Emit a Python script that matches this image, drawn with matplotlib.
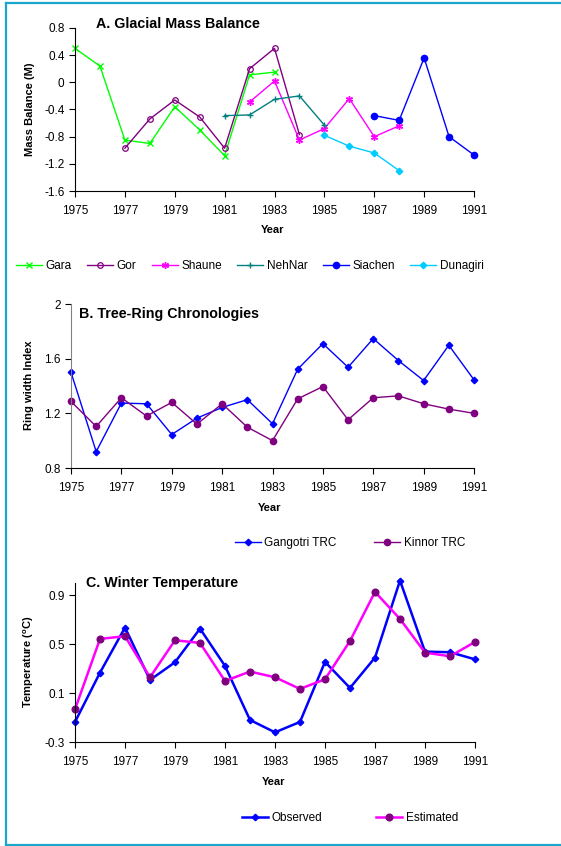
import matplotlib.pyplot as plt
from matplotlib.lines import Line2D

plt.rcParams['font.family'] = ['Liberation Sans', 'DejaVu Sans']

years = list(range(1975, 1992))

# A. glacial mass balance (years + values per glacier)
gara_yr = list(range(1975, 1984))
gara = [0.50, 0.24, -0.85, -0.90, -0.36, -0.70, -1.08, 0.11, 0.15]
gor_yr = list(range(1977, 1985))
gor = [-0.97, -0.54, -0.26, -0.51, -0.97, 0.20, 0.50, -0.77]
shaune_yr = list(range(1982, 1989))
shaune = [-0.29, 0.02, -0.85, -0.68, -0.24, -0.80, -0.64]
nehnar_yr = list(range(1981, 1986))
nehnar = [-0.49, -0.48, -0.25, -0.20, -0.63]
siachen_yr = list(range(1987, 1992))
siachen = [-0.49, -0.56, 0.36, -0.80, -1.07]
dunagiri_yr = list(range(1985, 1989))
dunagiri = [-0.78, -0.94, -1.04, -1.30]

# B. tree-ring chronologies
gangotri = [1.50, 0.92, 1.275, 1.27, 1.045, 1.165, 1.243, 1.30, 1.124,
            1.523, 1.71, 1.537, 1.747, 1.586, 1.44, 1.698, 1.445]
kinnor = [1.287, 1.104, 1.314, 1.18, 1.28, 1.121, 1.27, 1.099, 1.0,
          1.306, 1.396, 1.153, 1.314, 1.328, 1.27, 1.231, 1.20]

# C. winter temperature
observed = [-0.136, 0.267, 0.636, 0.207, 0.352, 0.627, 0.322, -0.12, -0.221,
            -0.136, 0.355, 0.142, 0.39, 1.02, 0.439, 0.434, 0.376]
estimated = [-0.033, 0.543, 0.565, 0.229, 0.532, 0.51, 0.199, 0.276, 0.229,
             0.134, 0.213, 0.526, 0.927, 0.706, 0.431, 0.401, 0.518]

W, H = 561, 846
fig = plt.figure(figsize=(W / 100, H / 100), dpi=100)


def box(x0, y0, x1, y1):
    return [x0 / W, 1 - y1 / H, (x1 - x0) / W, (y1 - y0) / H]


def style_axis(ax, ylim, yticks, ylabels, left_color='black'):
    ax.set_xlim(1975, 1991)
    ax.set_ylim(*ylim)
    ax.set_xticks(range(1975, 1992, 2))
    ax.set_yticks(yticks)
    ax.set_yticklabels(ylabels)
    ax.spines['top'].set_visible(False)
    ax.spines['right'].set_visible(False)
    ax.spines['left'].set_color(left_color)
    ax.tick_params(labelsize=8.5, length=4, width=0.8, direction='out')
    ax.tick_params(axis='x', pad=6)


# ---- panel A
axA = fig.add_axes(box(75, 28, 474, 191))
kw = dict(lw=1, clip_on=False)
axA.plot(gara_yr, gara, color='#00ff00', marker='x', ms=4.5, mew=1, label='Gara', **kw)
axA.plot(gor_yr, gor, color='#800080', marker='o', ms=4, mfc='none', mew=0.9, label='Gor', **kw)
axA.plot(shaune_yr, shaune, color='#ff00ff', marker=(6, 2, 0), ms=5, mew=1, label='Shaune', **kw)
axA.plot(nehnar_yr, nehnar, color='#008080', marker='+', ms=5, mew=1, label='NehNar', **kw)
axA.plot(siachen_yr, siachen, color='#0000ff', marker='o', ms=4.5, label='Siachen', **kw)
axA.plot(dunagiri_yr, dunagiri, color='#00ccff', marker='D', ms=3.3, label='Dunagiri', **kw)
style_axis(axA, (-1.6, 0.8), [-1.6, -1.2, -0.8, -0.4, 0, 0.4, 0.8],
           ['-1.6', '-1.2', '-0.8', '-0.4', '0', '0.4', '0.8'])
axA.legend(loc='center', bbox_to_anchor=(250 / W, 1 - 266 / H), bbox_transform=fig.transFigure,
           ncol=6, frameon=False, fontsize=8.5, handlelength=2.2, handletextpad=0.3,
           columnspacing=1.3)

# ---- panel B
axB = fig.add_axes(box(71, 304, 474, 468))
axB.plot(years, gangotri, color='#0000ff', marker='D', ms=3.3, lw=1, clip_on=False, label='Gangotri TRC')
axB.plot(years, kinnor, color='#800080', marker='o', ms=4.5, lw=1, clip_on=False, label='Kinnor TRC')
style_axis(axB, (0.8, 2.0), [0.8, 1.2, 1.6, 2.0], ['0.8', '1.2', '1.6', '2'], left_color='#808080')
axB.legend(loc='center', bbox_to_anchor=(350 / W, 1 - 543 / H), bbox_transform=fig.transFigure,
           ncol=2, frameon=False, fontsize=8.5, handlelength=2.2, handletextpad=0.3,
           columnspacing=3.2)

# ---- panel C
axC = fig.add_axes(box(75, 583, 475, 742))
axC.plot(years, observed, color='#0000ff', marker='D', ms=3.3, lw=1.8, clip_on=False, label='Observed')
axC.plot(years, estimated, color='#ff00ff', marker='o', ms=4.8, mfc='#800080', mec='#800080',
         lw=1.8, clip_on=False, label='Estimated')
style_axis(axC, (-0.3, 1.0), [-0.3, 0.1, 0.5, 0.9], ['-0.3', '0.1', '0.5', '0.9'])
axC.legend(loc='center', bbox_to_anchor=(350 / W, 1 - 818 / H), bbox_transform=fig.transFigure,
           ncol=2, frameon=False, fontsize=8.5, handlelength=2.2, handletextpad=0.3,
           columnspacing=4.6)

# titles and axis labels
for x, y, s in [(96, 24, 'A. Glacial Mass Balance'),
                (79, 314, 'B. Tree-Ring Chronologies'),
                (86, 583, 'C. Winter Temperature')]:
    fig.text(x / W, 1 - y / H, s, fontsize=10.3, fontweight='bold', va='center', ha='left')
for x, y, s in [(30, 109, 'Mass Balance (M)'),
                (29, 385, 'Ring width Index'),
                (29, 662, r'Temperature ($^{\mathregular{o}}$C)')]:
    fig.text(x / W, 1 - y / H, s, fontsize=8, fontweight='bold', rotation=90,
             va='center', ha='center')
for x, y in [(273, 230), (270, 508), (274, 782)]:
    fig.text(x / W, 1 - y / H, 'Year', fontsize=8, fontweight='bold', va='center', ha='center')

# frame around the figure (left, top, bottom)
frame = '#1aa5cc'
fig.add_artist(Line2D([5.5 / W, 5.5 / W], [1 - 3.5 / H, 1 - 845 / H], color=frame, lw=1.6))
fig.add_artist(Line2D([5.5 / W, 1], [1 - 3.5 / H, 1 - 3.5 / H], color=frame, lw=1.6))
fig.add_artist(Line2D([5.5 / W, 1], [1 - 845 / H, 1 - 845 / H], color=frame, lw=1.6))

fig.savefig('out.png', dpi=100)
